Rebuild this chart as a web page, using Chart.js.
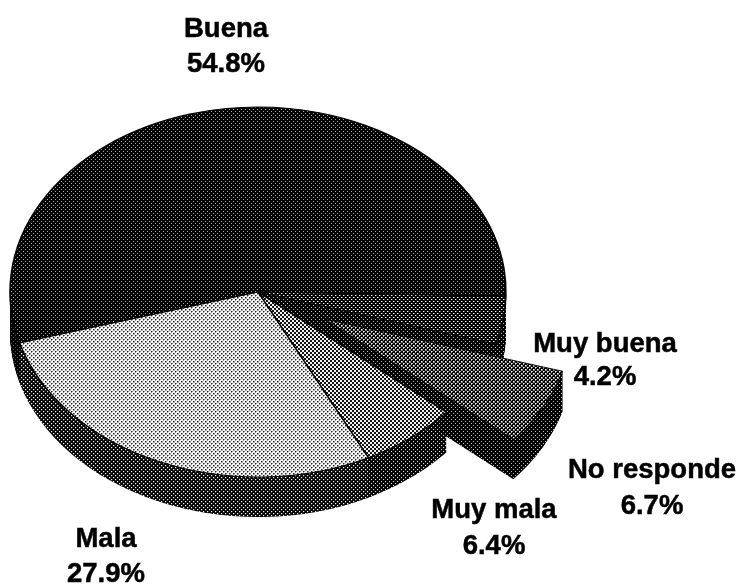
<!DOCTYPE html>
<html><head><meta charset="utf-8">
<style>html,body{margin:0;padding:0;background:#fff}canvas{display:block}</style>
<script src="https://cdn.jsdelivr.net/npm/chart.js@4/dist/chart.umd.min.js"></script>
</head><body>
<canvas id="c" width="742" height="584"></canvas>
<script>
const categories = ['Buena','Muy buena','No responde','Muy mala','Mala'];
const values = [54.8,4.2,6.7,6.4,27.9];
const explodePx = [0,0,76,0,0];
const labelCenterX = [226,605,652,494,106];
const labelBaseline = [37,352,478,518,547];
const lineGap = [35,33,36,36,35];
const tilt = 0.746, depth = 40;

function tile(bg, dots){
  const t = document.createElement('canvas'); t.width = 4; t.height = 4;
  const g = t.getContext('2d');
  g.fillStyle = bg; g.fillRect(0,0,4,4);
  for (const [col,x,y,w,h] of dots){
    g.fillStyle = col;
    g.fillRect(x,y,w,h); g.fillRect(x+2,y+2,w,h);
    g.fillRect(x-2,y+2,w,h); g.fillRect(x+2,y-2,w,h);
  }
  return g.createPattern(t,'repeat');
}
const topFill = [
  tile('#000',[['#a8a8a8',1,1,1,1]]),
  tile('#000',[['#fff',1,1,1,1],['#666',2,1,1,1]]),
  tile('#000',[['#fff',1,1,1.6,1.6]]),
  tile('#161616',[['#f0f0f0',0,0,2,2]]),
  tile('#f6f6f6',[['#222',1,1,1.5,1.5]])
];
const sideFill = [
  tile('#000',[['#555',1,1,1,1]]),
  tile('#000',[['#bbb',1,1,1,1]]),
  tile('#000',[['#bbb',1,1,1,1]]),
  tile('#000',[['#ddd',1,1,1.1,1.1]]),
  tile('#000',[['#eee',1,1,1.25,1.25]])
];

const pie3d = {
  id:'pie3d',
  beforeDatasetDraw(chart){
    const ctx = chart.ctx, arcs = chart.getDatasetMeta(0).data;
    const cx = arcs[0].x, cy = arcs[0].y;
    const paint = (i, d, pat, border) => {
      const el = arcs[i], mid = (el.startAngle+el.endAngle)/2, saved = el.options;
      ctx.save();
      ctx.translate(cx,cy); ctx.scale(1,tilt); ctx.translate(-cx,-cy);
      ctx.translate(Math.cos(mid)*explodePx[i], Math.sin(mid)*explodePx[i] + d/tilt);
      pat.setTransform(ctx.getTransform().inverse());
      el.options = Object.assign({}, saved, {backgroundColor:pat, borderColor:'#000', borderWidth:border});
      el.draw(ctx);
      el.options = saved;
      ctx.restore();
    };
    const main = [], out = [];
    arcs.forEach((a,i)=> (explodePx[i] ? out : main).push(i));
    for (let d=depth; d>=1; d--) main.forEach(i=>paint(i,d,sideFill[i],0));
    for (let d=depth; d>=1; d--) out.forEach(i=>paint(i,d,sideFill[i],0));
    out.forEach(i=>paint(i,0,topFill[i],1));
    main.forEach(i=>paint(i,0,topFill[i],1.5));
    return false;
  },
  afterDraw(chart){
    const ctx = chart.ctx;
    ctx.save();
    ctx.fillStyle = '#000'; ctx.strokeStyle = '#000'; ctx.lineWidth = 0.5;
    ctx.font = 'bold 27.5px "Liberation Sans"';
    ctx.textAlign = 'center'; ctx.textBaseline = 'alphabetic';
    categories.forEach((name,i)=>{
      const pct = values[i].toFixed(1)+'%', y2 = labelBaseline[i]+lineGap[i];
      ctx.fillText(name, labelCenterX[i], labelBaseline[i]);
      ctx.strokeText(name, labelCenterX[i], labelBaseline[i]);
      ctx.fillText(pct, labelCenterX[i], y2);
      ctx.strokeText(pct, labelCenterX[i], y2);
    });
    ctx.restore();
  }
};

new Chart(document.getElementById('c'),{
  type:'pie',
  data:{labels:categories,datasets:[{data:values,backgroundColor:'#000',borderWidth:0}]},
  options:{
    responsive:false, animation:false, events:[],
    rotation:254,
    layout:{padding:{left:10,right:236,top:44,bottom:44}},
    plugins:{legend:{display:false},tooltip:{enabled:false},title:{display:false}}
  },
  plugins:[pie3d]
});
</script>
</body></html>
